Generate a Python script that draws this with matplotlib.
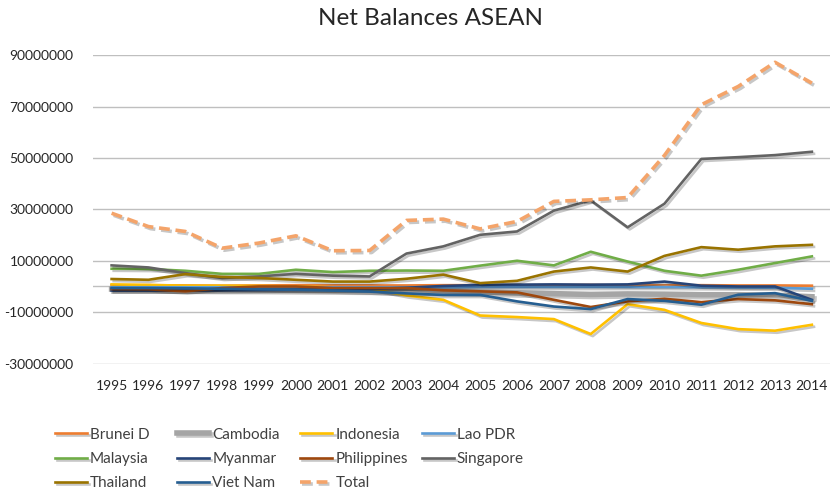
import numpy as np
import matplotlib
matplotlib.use('Agg')
import matplotlib.pyplot as plt
import matplotlib.patheffects as pe

plt.rcParams['font.family'] = ['Lato', 'DejaVu Sans']

# Data
years = list(range(1995, 2015))

brunei = [0.5, 0.5, 0.4, 0.3, 0.4, 0.5, 0.4, 0.4, 0.4, 0.5, 0.5, 0.5, 0.5, 0.6, 0.4, 0.4, 0.5, 0.4, 0.4, 0.3]
cambodia = [-1.0, -1.0, -1.1, -1.2, -1.2, -1.3, -1.4, -1.5, -1.7, -1.9, -2.2, -2.5, -2.8, -3.1, -2.9, -3.0, -3.2, -3.2, -3.4, -4.0]
indonesia = [0.8, 0.6, 0.3, 0.3, 0.2, 0.0, -0.3, -0.8, -3.5, -5.2, -11.3, -11.9, -12.7, -18.5, -6.9, -9.1, -14.2, -16.6, -17.2, -14.9]
lao = [-0.3, -0.3, -0.3, -0.3, -0.3, -0.3, -0.3, -0.3, -0.3, -0.3, -0.2, -0.2, -0.2, -0.2, -0.2, -0.2, -0.3, -0.4, -0.5, -0.9]
malaysia = [6.9, 6.8, 6.1, 4.9, 4.9, 6.5, 5.6, 6.1, 6.2, 6.1, 8.1, 10.0, 8.2, 13.5, 9.7, 6.1, 4.2, 6.5, 9.1, 11.7]
myanmar = [-1.6, -1.6, -1.6, -1.5, -1.4, -1.3, -1.2, -1.0, -0.5, 0.2, 0.6, 0.7, 0.8, 0.7, 0.8, 1.9, 0.3, 0.0, 0.0, -5.2]
philippines = [-1.0, -1.1, -1.9, -0.6, 0.0, 0.0, -0.6, -0.6, -0.6, -1.5, -1.9, -2.3, -5.2, -8.0, -5.8, -4.8, -6.1, -4.9, -5.4, -6.9]
singapore = [8.2, 7.4, 5.2, 3.3, 3.9, 4.9, 4.2, 3.9, 12.8, 15.6, 20.1, 21.4, 29.5, 33.5, 23.0, 32.2, 49.6, 50.3, 51.1, 52.4]
thailand = [2.9, 2.6, 4.8, 3.7, 3.3, 2.6, 1.9, 1.9, 3.0, 4.6, 1.3, 2.2, 5.8, 7.4, 5.8, 11.9, 15.3, 14.3, 15.6, 16.2]
vietnam = [-0.6, -0.6, -0.7, -0.9, -1.1, -1.3, -1.6, -2.0, -2.7, -3.3, -3.3, -5.8, -7.8, -8.8, -4.9, -5.6, -7.1, -3.2, -2.6, -5.6]
total = [28.5, 23.3, 21.4, 14.9, 16.9, 19.7, 13.9, 14.0, 25.7, 26.2, 22.4, 25.3, 33.1, 33.7, 34.6, 51.0, 70.7, 77.8, 87.2, 79.1]

names = ['Brunei D', 'Cambodia', 'Indonesia', 'Lao PDR', 'Malaysia', 'Myanmar',
         'Philippines', 'Singapore', 'Thailand', 'Viet Nam', 'Total']
series = [brunei, cambodia, indonesia, lao, malaysia, myanmar,
          philippines, singapore, thailand, vietnam, total]
colors = ['#ED7D31', '#A5A5A5', '#FFC000', '#5B9BD5', '#70AD47', '#264478',
          '#9E480E', '#636363', '#997300', '#255E91', '#F4A46A']
widths = [1.9, 4.0, 1.9, 1.9, 1.9, 1.9, 1.9, 1.9, 1.9, 1.9, 2.6]

fig = plt.figure(figsize=(8.32, 4.92), dpi=100)
ax = fig.add_axes([0.112, 0.261, 0.886, 0.627])

shadow = [pe.SimpleLineShadow(offset=(1.5, -1.5), shadow_color='black', alpha=0.22),
          pe.Normal()]

lines = []
for name, vals, c, w in zip(names, series, colors, widths):
    ls = (0, (3, 1.6)) if name == 'Total' else '-'
    ln, = ax.plot(years, np.array(vals) * 1e6, color=c, lw=w, ls=ls,
                  label=name, path_effects=shadow, solid_joinstyle='round')
    lines.append(ln)

ax.set_xlim(1994.5, 2014.5)
ax.set_ylim(-30e6, 90e6)
yt = np.arange(-30e6, 90e6 + 1, 20e6)
ax.set_yticks(yt)
ax.set_yticklabels([f'{int(v)}' for v in yt])
ax.set_xticks(years)
ax.set_xticklabels([str(y) for y in years])
ax.tick_params(length=0, labelsize=10, colors='#262626')
ax.tick_params(axis='y', pad=14)
ax.tick_params(axis='x', pad=12)
ax.grid(axis='y', color='#BFBFBF', lw=1)
ax.axhline(0, color='#BFBFBF', lw=1, zorder=1)
ax.set_axisbelow(True)
for s in ax.spines.values():
    s.set_visible(False)

fig.text(0.517, 0.963, 'Net Balances ASEAN', fontsize=17.5, color='#262626',
         ha='center', va='center')

# legend: four fixed-width columns, filled row by row
col_x = [0.066, 0.213, 0.361, 0.507]
for c in range(4):
    idx = list(range(c, len(names), 4))
    fig.legend([lines[i] for i in idx], [names[i] for i in idx],
               loc='upper left', bbox_to_anchor=(col_x[c], 0.131), ncol=1,
               frameon=False, borderaxespad=0, borderpad=0,
               fontsize=11, handlelength=2.1, handletextpad=0.2,
               labelspacing=0.68, labelcolor='#404040')

fig.savefig('out.png', dpi=100)
